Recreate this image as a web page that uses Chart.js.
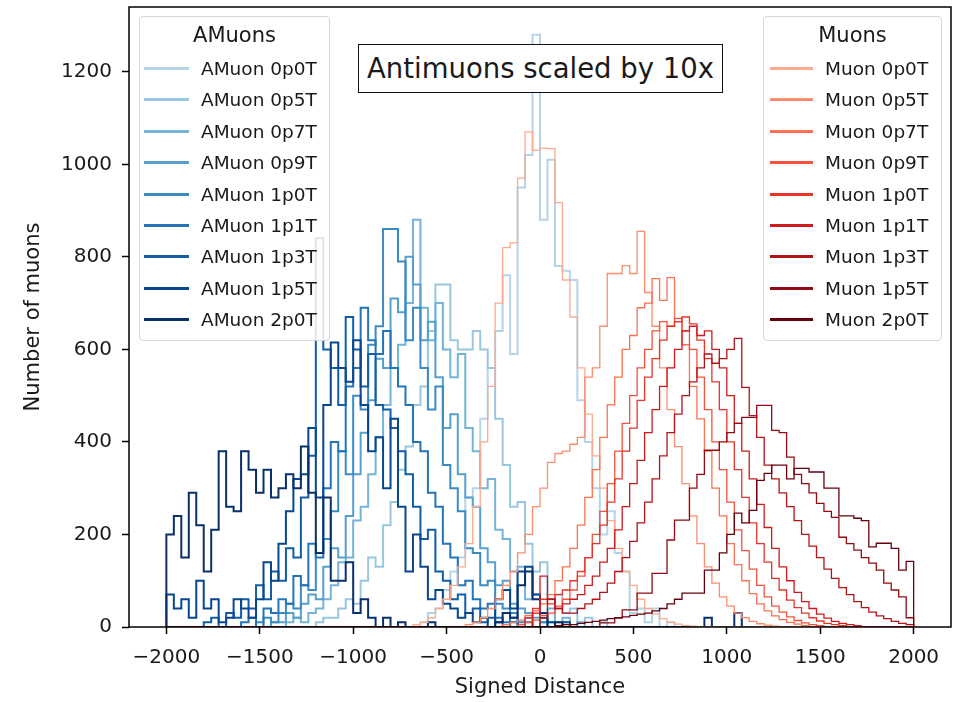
<!DOCTYPE html>
<html>
<head>
<meta charset="utf-8">
<script src="https://cdn.jsdelivr.net/npm/chart.js@4.4.1/dist/chart.umd.min.js"></script>
<style>
  body { margin: 0; background: #fff; font-family: 'DejaVu Sans', sans-serif; }
  #wrap { position: relative; width: 956px; height: 702px; }
  #chart { position: absolute; left: 0; top: 0; }
  .legend { position: absolute; top: 16px; height: 325px; box-sizing: border-box;
            background: rgba(255,255,255,0.85); border: 1px solid #d6d6d6; border-radius: 4px; }
  .legend .title { position: absolute; left: 0; right: 0; top: 5px; line-height: 26px;
                   text-align: center; font-size: 21px; color: #1a1a1a; }
  .legend .item { position: absolute; left: 0; right: 0; height: 24px; }
  .legend .swatch { position: absolute; top: 10px; height: 3px; }
  .legend .lbl { position: absolute; top: 0; line-height: 24px; font-size: 18.5px; color: #1a1a1a; white-space: nowrap; }
  #amuon-legend { left: 139px; width: 191px; }
  #muon-legend { left: 763px; width: 179px; }
  .note { position: absolute; left: 358px; top: 44px; width: 365px; height: 49px; box-sizing: border-box;
          border: 1.5px solid #111; background: #fff; font-size: 27.5px; line-height: 46px;
          text-align: center; color: #1a1a1a; }
</style>
</head>
<body>
<div id="wrap">
  <canvas id="chart" width="956" height="702"></canvas>
  <div class="legend" id="amuon-legend"></div>
  <div class="legend" id="muon-legend"></div>
  <div class="note">Antimuons scaled by 10x</div>
</div>
<script>
// histogram binning: 100 bins of 40 from -2000 to 2000
const binStart = -2000;
const binWidth = 40;

const fields = ['0p0T', '0p5T', '0p7T', '0p9T', '1p0T', '1p1T', '1p3T', '1p5T', '2p0T'];
const xTicks = [-2000, -1500, -1000, -500, 0, 500, 1000, 1500, 2000];
const yTicks = [0, 200, 400, 600, 800, 1000, 1200];

const amuonColors = ['#b6d4e9', '#99c7e0', '#75b4d8', '#56a0ce', '#3b8bc3', '#2474b7', '#125ea6', '#08478d', '#08306b'];
const muonColors = ['#fcab8e', '#fc8e6e', '#fb7252', '#f5523b', '#e83429', '#cf1b1e', '#b41318', '#920a13', '#67000d'];

// antimuon counts (already x10), one value per bin
const amuon0p0 = [
  0, 0, 0, 0, 0, 0, 0, 0, 0, 0,   0, 0, 0, 0, 0, 0, 0, 0, 0, 0,
  0, 0, 0, 0, 0, 0, 0, 0, 0, 0,   0, 0, 0, 0, 10, 30, 40, 80, 120, 150,
  280, 300, 450, 560, 640, 760, 590, 950, 1020, 1280,   880, 1010, 780, 770, 750, 490, 400, 300, 200, 250,
  160, 120, 30, 40, 10, 40, 0, 10, 0, 0,   0, 0, 0, 0, 0, 0, 0, 0, 0, 0,
  0, 0, 0, 0, 0, 0, 0, 0, 0, 0,   0, 0, 0, 0, 0, 0, 0, 0, 0, 0
];
const amuon0p5 = [
  0, 0, 0, 0, 0, 0, 0, 0, 0, 0,   0, 0, 0, 0, 0, 0, 0, 0, 0, 0,
  10, 20, 20, 40, 60, 50, 100, 150, 130, 220,   270, 340, 390, 480, 520, 640, 740, 740, 620, 600,
  600, 640, 600, 560, 450, 350, 260, 270, 180, 120,   140, 60, 70, 30, 40, 10, 20, 0, 10, 0,
  0, 0, 0, 0, 0, 0, 0, 0, 0, 0,   0, 0, 0, 0, 0, 0, 0, 0, 0, 0,
  0, 0, 0, 0, 0, 0, 0, 0, 0, 0,   0, 0, 0, 0, 0, 0, 0, 0, 0, 0
];
const amuon0p7 = [
  0, 0, 0, 0, 0, 0, 0, 0, 0, 0,   0, 0, 0, 0, 0, 0, 10, 20, 10, 30,
  40, 60, 90, 140, 150, 230, 260, 330, 410, 480,   560, 610, 700, 880, 690, 620, 700, 600, 540, 590,
  430, 380, 300, 320, 210, 190, 120, 130, 60, 70,   30, 40, 10, 20, 0, 10, 0, 0, 0, 0,
  0, 0, 0, 0, 0, 0, 0, 0, 0, 0,   0, 0, 0, 0, 0, 0, 0, 0, 0, 0,
  0, 0, 0, 0, 0, 0, 0, 0, 0, 0,   0, 0, 0, 0, 0, 0, 0, 0, 0, 0
];
const amuon0p9 = [
  0, 0, 0, 0, 0, 0, 0, 0, 0, 0,   0, 0, 0, 0, 10, 10, 30, 20, 50, 70,
  60, 130, 170, 150, 240, 330, 420, 490, 580, 560,   710, 680, 800, 740, 620, 660, 540, 430, 460, 330,
  280, 260, 170, 140, 90, 100, 50, 40, 30, 20,   10, 10, 0, 0, 0, 0, 0, 0, 0, 0,
  0, 0, 0, 0, 0, 0, 0, 0, 0, 0,   0, 0, 0, 0, 0, 0, 0, 0, 0, 0,
  0, 0, 0, 0, 0, 0, 0, 0, 0, 0,   0, 0, 0, 0, 0, 0, 0, 0, 0, 0
];
const amuon1p0 = [
  0, 0, 0, 0, 0, 0, 0, 0, 0, 0,   0, 0, 10, 20, 10, 30, 50, 40, 90, 80,
  160, 190, 250, 380, 330, 500, 470, 610, 650, 860,   860, 790, 620, 690, 560, 470, 520, 350, 300, 250,
  170, 160, 90, 100, 50, 40, 30, 10, 20, 0,   10, 0, 0, 0, 0, 0, 0, 0, 0, 0,
  0, 0, 0, 0, 0, 0, 0, 0, 0, 0,   0, 0, 0, 0, 0, 0, 0, 0, 0, 0,
  0, 0, 0, 0, 0, 0, 0, 0, 0, 0,   0, 0, 0, 0, 0, 0, 0, 0, 0, 0
];
const amuon1p1 = [
  0, 0, 0, 0, 0, 0, 0, 0, 0, 0,   10, 20, 0, 40, 30, 60, 50, 110, 90, 180,
  150, 300, 400, 380, 520, 560, 690, 620, 590, 640,   560, 520, 480, 400, 380, 290, 260, 180, 150, 90,
  100, 60, 40, 50, 20, 10, 20, 0, 10, 0,   0, 0, 0, 0, 0, 0, 0, 0, 0, 0,
  0, 0, 0, 0, 0, 0, 0, 0, 0, 0,   0, 0, 0, 0, 0, 0, 0, 0, 0, 0,
  0, 0, 0, 0, 0, 0, 0, 0, 0, 0,   0, 0, 0, 0, 0, 0, 0, 0, 0, 0
];
const amuon1p3 = [
  0, 0, 0, 0, 0, 10, 20, 0, 30, 20,   60, 40, 90, 60, 120, 100, 170, 150, 280, 370,
  840, 600, 560, 480, 670, 600, 520, 590, 480, 470,   430, 380, 330, 260, 190, 210, 120, 100, 60, 70,
  30, 40, 10, 20, 10, 0, 10, 0, 0, 0,   0, 0, 0, 0, 0, 0, 0, 0, 0, 0,
  0, 0, 0, 0, 0, 0, 0, 0, 0, 0,   0, 0, 0, 0, 0, 0, 0, 0, 0, 0,
  0, 0, 0, 0, 0, 0, 0, 0, 0, 0,   0, 0, 0, 0, 0, 0, 0, 0, 0, 0
];
const amuon1p5 = [
  70, 40, 60, 20, 100, 40, 60, 10, 20, 60,   40, 20, 60, 140, 100, 180, 250, 320, 330, 430,
  280, 480, 615, 560, 530, 620, 480, 380, 410, 300,   450, 260, 120, 200, 130, 60, 80, 50, 40, 20,
  30, 10, 20, 0, 60, 80, 40, 120, 130, 70,   20, 10, 0, 10, 0, 0, 0, 0, 0, 0,
  0, 0, 0, 0, 0, 0, 0, 0, 0, 0,   0, 0, 0, 0, 0, 0, 0, 0, 0, 0,
  0, 0, 0, 0, 0, 0, 0, 0, 0, 0,   0, 0, 0, 0, 0, 0, 0, 0, 0, 0
];
const amuon2p0 = [
  200, 240, 150, 290, 220, 120, 210, 380, 260, 250,   380, 340, 290, 340, 280, 300, 330, 300, 390, 290,
  160, 280, 100, 100, 140, 30, 60, 20, 0, 20,   0, 10, 0, 0, 0, 10, 0, 0, 0, 0,
  0, 0, 0, 0, 10, 30, 20, 90, 120, 60,   30, 0, 10, 0, 0, 0, 0, 0, 0, 0,
  0, 0, 0, 0, 0, 0, 0, 0, 0, 0,   0, 0, 20, 0, 0, 0, 30, 0, 0, 0,
  0, 0, 0, 0, 0, 0, 0, 0, 0, 0,   0, 0, 0, 0, 0, 0, 0, 0, 0, 0
];

// muon counts, one value per bin
const muon0p0 = [
  0, 0, 0, 0, 0, 0, 0, 0, 0, 0,   0, 0, 0, 0, 0, 0, 0, 0, 0, 0,
  0, 0, 0, 0, 0, 0, 0, 0, 0, 0,   0, 0, 0, 5, 10, 20, 40, 60, 90, 130,
  180, 260, 400, 520, 700, 820, 830, 970, 1070, 1030,   1035, 1034, 917, 750, 670, 560, 460, 370, 300, 230,
  170, 120, 90, 60, 40, 28, 18, 10, 6, 3,   2, 0, 0, 0, 0, 0, 0, 0, 0, 0,
  0, 0, 0, 0, 0, 0, 0, 0, 0, 0,   0, 0, 0, 0, 0, 0, 0, 0, 0, 0
];
const muon0p5 = [
  0, 0, 0, 0, 0, 0, 0, 0, 0, 0,   0, 0, 0, 0, 0, 0, 0, 0, 0, 0,
  0, 0, 0, 0, 0, 0, 0, 0, 0, 0,   0, 0, 0, 0, 0, 0, 0, 0, 0, 0,
  5, 10, 20, 40, 60, 90, 120, 160, 200, 260,   300, 356, 375, 380, 395, 410, 540, 560, 650, 764,
  764, 781, 764, 855, 723, 650, 560, 470, 390, 310,   240, 180, 130, 95, 65, 45, 30, 20, 12, 7,
  4, 2, 0, 0, 0, 0, 0, 0, 0, 0,   0, 0, 0, 0, 0, 0, 0, 0, 0, 0
];
const muon0p7 = [
  0, 0, 0, 0, 0, 0, 0, 0, 0, 0,   0, 0, 0, 0, 0, 0, 0, 0, 0, 0,
  0, 0, 0, 0, 0, 0, 0, 0, 0, 0,   0, 0, 0, 0, 0, 0, 0, 0, 0, 0,
  0, 0, 0, 0, 0, 5, 10, 15, 25, 35,   50, 70, 100, 130, 170, 220, 280, 340, 410, 480,
  540, 600, 630, 690, 700, 753, 706, 755, 660, 610,   520, 450, 380, 300, 240, 180, 135, 100, 72, 50,
  35, 24, 16, 10, 6, 3, 0, 0, 0, 0,   0, 0, 0, 0, 0, 0, 0, 0, 0, 0
];
const muon0p9 = [
  0, 0, 0, 0, 0, 0, 0, 0, 0, 0,   0, 0, 0, 0, 0, 0, 0, 0, 0, 0,
  0, 0, 0, 0, 0, 0, 0, 0, 0, 0,   0, 0, 0, 0, 0, 0, 0, 0, 0, 0,
  0, 0, 0, 0, 0, 0, 0, 5, 10, 15,   25, 30, 45, 60, 80, 110, 150, 200, 250, 310,
  380, 440, 500, 560, 600, 640, 660, 650, 667, 640,   600, 540, 470, 400, 340, 270, 210, 165, 125, 90,
  65, 45, 32, 22, 14, 9, 5, 3, 0, 0,   0, 0, 0, 0, 0, 0, 0, 0, 0, 0
];
const muon1p0 = [
  0, 0, 0, 0, 0, 0, 0, 0, 0, 0,   0, 0, 0, 0, 0, 0, 0, 0, 0, 0,
  0, 0, 0, 0, 0, 0, 0, 0, 0, 0,   0, 0, 0, 0, 0, 0, 0, 0, 0, 0,
  0, 0, 0, 0, 0, 0, 0, 0, 20, 40,   60, 50, 70, 80, 100, 120, 150, 180, 220, 270,
  320, 380, 430, 490, 540, 580, 620, 650, 660, 670,   655, 620, 580, 530, 470, 400, 340, 280, 225, 180,
  140, 105, 80, 58, 42, 30, 20, 13, 8, 5,   3, 0, 0, 0, 0, 0, 0, 0, 0, 0
];
const muon1p1 = [
  0, 0, 0, 0, 0, 0, 0, 0, 0, 0,   0, 0, 0, 0, 0, 0, 0, 0, 0, 0,
  0, 0, 0, 0, 0, 0, 0, 0, 0, 0,   0, 0, 0, 0, 0, 0, 0, 0, 0, 0,
  0, 0, 0, 0, 0, 0, 0, 0, 0, 30,   110, 60, 40, 50, 60, 70, 90, 110, 140, 170,
  210, 260, 310, 360, 420, 470, 520, 560, 600, 640,   650, 630, 640, 600, 560, 500, 440, 380, 320, 265,
  215, 170, 130, 100, 75, 55, 40, 28, 19, 12,   8, 5, 3, 0, 0, 0, 0, 0, 0, 0
];
const muon1p3 = [
  0, 0, 0, 0, 0, 0, 0, 0, 0, 0,   0, 0, 0, 0, 0, 0, 0, 0, 0, 0,
  0, 0, 0, 0, 0, 0, 0, 0, 0, 0,   0, 0, 0, 0, 0, 0, 0, 0, 0, 0,
  0, 0, 0, 0, 0, 0, 0, 0, 0, 0,   20, 60, 40, 30, 30, 40, 50, 60, 75, 95,
  120, 150, 185, 225, 270, 320, 370, 420, 460, 500,   530, 560, 590, 570, 580, 600, 624, 518, 457, 410,
  350, 320, 290, 260, 230, 200, 175, 150, 125, 105,   85, 70, 55, 42, 32, 24, 18, 12, 8, 5
];
const muon1p5 = [
  0, 0, 0, 0, 0, 0, 0, 0, 0, 0,   0, 0, 0, 0, 0, 0, 0, 0, 0, 0,
  0, 0, 0, 0, 0, 0, 0, 0, 0, 0,   0, 0, 0, 0, 0, 0, 0, 0, 0, 0,
  0, 0, 0, 0, 0, 0, 0, 0, 0, 0,   0, 0, 0, 0, 0, 0, 0, 0, 9, 9,
  20, 37, 37, 73, 73, 116, 116, 188, 231, 231,   300, 330, 382, 382, 400, 420, 440, 453, 453, 479,
  479, 425, 420, 367, 330, 310, 290, 267, 250, 237,   194, 180, 166, 150, 138, 123, 95, 80, 65, 20
];
const muon2p0 = [
  0, 0, 0, 0, 0, 0, 0, 0, 0, 0,   0, 0, 0, 0, 0, 0, 0, 0, 0, 0,
  0, 0, 0, 0, 0, 0, 0, 0, 0, 0,   0, 0, 0, 0, 0, 0, 0, 0, 0, 0,
  0, 0, 0, 0, 0, 0, 0, 0, 0, 0,   0, 0, 3, 5, 5, 8, 10, 12, 15, 18,
  20, 22, 25, 28, 30, 35, 40, 50, 60, 73,   73, 73, 123, 123, 160, 200, 246, 225, 252, 317,
  332, 350, 350, 320, 343, 343, 335, 335, 300, 300,   240, 240, 235, 230, 173, 181, 181, 170, 123, 142
];

const amuonCounts = [amuon0p0, amuon0p5, amuon0p7, amuon0p9, amuon1p0, amuon1p1, amuon1p3, amuon1p5, amuon2p0];
const muonCounts = [muon0p0, muon0p5, muon0p7, muon0p9, muon1p0, muon1p1, muon1p3, muon1p5, muon2p0];

// outline of a step histogram: up at the first edge, flat over each bin, down at the last edge
const stepPoints = (counts) => {
  const pts = [{ x: binStart, y: 0 }];
  counts.forEach((c, i) => pts.push({ x: binStart + i * binWidth, y: c }));
  pts.push({ x: binStart + counts.length * binWidth, y: 0 });
  return pts;
};

const datasets = [];
amuonCounts.forEach((counts, i) => {
  datasets.push({
    label: 'AMuon ' + fields[i],
    data: stepPoints(counts),
    borderColor: amuonColors[i],
    borderWidth: 2,
  });
});
muonCounts.forEach((counts, i) => {
  datasets.push({
    label: 'Muon ' + fields[i],
    data: stepPoints(counts),
    borderColor: muonColors[i],
    borderWidth: 1.3,
  });
});
// later histograms sit on top, like the original plotting order
datasets.forEach((d, i) => {
  d.order = -i;
  d.stepped = true;
  d.pointRadius = 0;
  d.fill = false;
});

// axes frame on all four sides
const frame = {
  id: 'frame',
  afterDatasetsDraw(chart) {
    const { ctx, chartArea: a } = chart;
    ctx.save();
    ctx.strokeStyle = '#000';
    ctx.lineWidth = 1.5;
    ctx.strokeRect(a.left, a.top, a.right - a.left, a.bottom - a.top);
    ctx.restore();
  }
};

const tickFont = { family: 'DejaVu Sans', size: 20 };
const titleFont = { family: 'DejaVu Sans', size: 21 };
const fmt = v => (v < 0 ? '\u2212' : '') + Math.abs(v);

new Chart(document.getElementById('chart'), {
  type: 'line',
  data: { datasets },
  options: {
    responsive: false,
    animation: false,
    devicePixelRatio: 1,
    layout: { padding: { top: 7, right: 5, left: 0, bottom: 0 } },
    plugins: { legend: { display: false }, tooltip: { enabled: false } },
    scales: {
      x: {
        type: 'linear',
        min: -2200,
        max: 2200,
        afterFit: s => { s.height = 75; s.paddingLeft = 0; s.paddingRight = 0; },
        afterBuildTicks: s => { s.ticks = xTicks.map(v => ({ value: v })); },
        grid: { drawOnChartArea: false, drawTicks: true, tickLength: 7, tickWidth: 1.5, tickColor: '#000' },
        border: { display: false },
        ticks: { font: tickFont, color: '#1a1a1a', padding: 12, autoSkip: false, maxRotation: 0, callback: fmt },
        title: { display: true, text: 'Signed Distance', font: titleFont, color: '#1a1a1a', padding: { top: 0, bottom: 2 } }
      },
      y: {
        type: 'linear',
        min: 0,
        max: 1340,
        afterFit: s => { s.width = 129; s.paddingTop = 0; s.paddingBottom = 0; },
        afterBuildTicks: s => { s.ticks = yTicks.map(v => ({ value: v })); },
        grid: { drawOnChartArea: false, drawTicks: true, tickLength: 7, tickWidth: 1.5, tickColor: '#000' },
        border: { display: false },
        ticks: { font: tickFont, color: '#1a1a1a', padding: 10, autoSkip: false, callback: fmt },
        title: { display: true, text: 'Number of muons', font: titleFont, color: '#1a1a1a', padding: { top: 21, bottom: 0 } }
      }
    }
  },
  plugins: [frame]
});

// the two legends, built from the same names and colours
const buildLegend = (id, title, prefix, colors, swatchLeft, swatchWidth) => {
  const box = document.getElementById(id);
  const t = document.createElement('div');
  t.className = 'title';
  t.textContent = title;
  box.appendChild(t);
  fields.forEach((f, i) => {
    const row = document.createElement('div');
    row.className = 'item';
    row.style.top = (40 + i * 31.4) + 'px';
    const sw = document.createElement('span');
    sw.className = 'swatch';
    sw.style.left = swatchLeft + 'px';
    sw.style.width = swatchWidth + 'px';
    sw.style.background = colors[i];
    const lbl = document.createElement('span');
    lbl.className = 'lbl';
    lbl.style.left = '61px';
    lbl.textContent = prefix + ' ' + f;
    row.appendChild(sw);
    row.appendChild(lbl);
    box.appendChild(row);
  });
};
buildLegend('amuon-legend', 'AMuons', 'AMuon', amuonColors, 4, 45);
buildLegend('muon-legend', 'Muons', 'Muon', muonColors, 6, 43);
</script>
</body>
</html>
